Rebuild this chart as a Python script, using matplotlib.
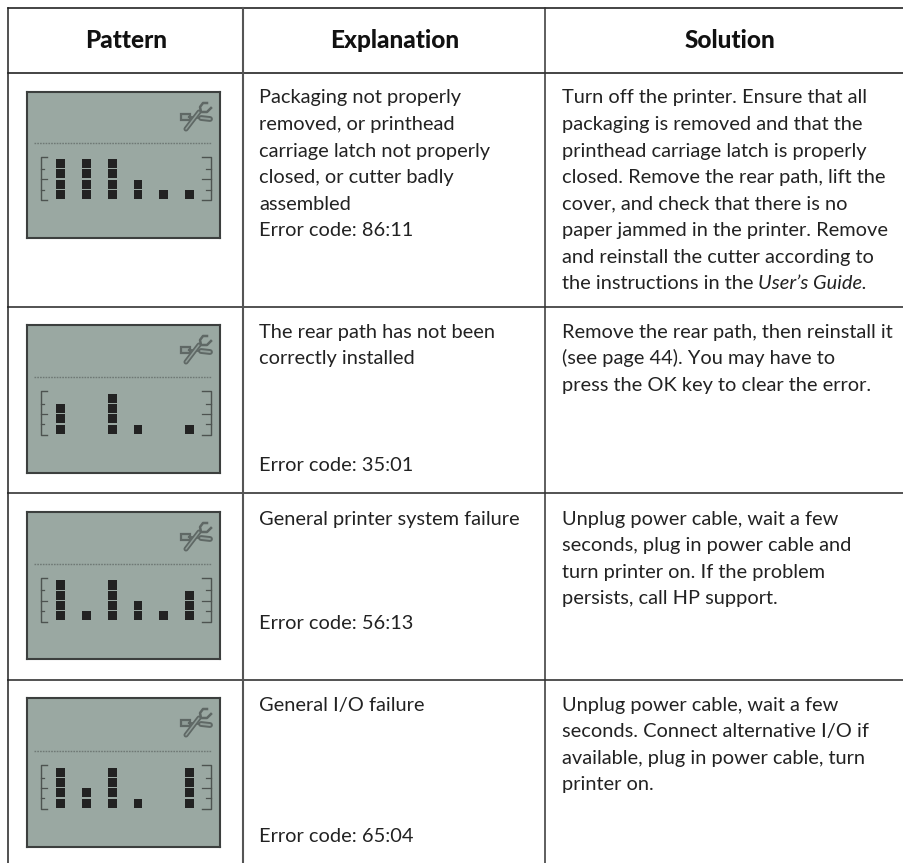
import matplotlib
matplotlib.use('Agg')
import matplotlib.pyplot as plt
from matplotlib.patches import Rectangle

W, H = 904, 863
FONT = 'Lato'

headers = ['Pattern', 'Explanation', 'Solution']
header_x = [126, 394.5, 730]

# number of lit blocks in each of the six columns of the display
levels_1 = [4, 4, 4, 2, 1, 1]
levels_2 = [3, 0, 4, 1, 0, 1]
levels_3 = [4, 1, 4, 2, 1, 3]
levels_4 = [4, 2, 4, 1, 0, 4]
all_levels = [levels_1, levels_2, levels_3, levels_4]

explain_1 = ['Packaging not properly', 'removed, or printhead', 'carriage latch not properly',
             'closed, or cutter badly', 'assembled', 'Error code: 86:11']
explain_2 = ['The rear path has not been', 'correctly installed']
explain_3 = ['General printer system failure']
explain_4 = ['General I/O failure']
all_explain = [explain_1, explain_2, explain_3, explain_4]
error_codes = [None, 'Error code: 35:01', 'Error code: 56:13', 'Error code: 65:04']

solution_1 = ['Turn off the printer. Ensure that all', 'packaging is removed and that the',
              'printhead carriage latch is properly', 'closed. Remove the rear path, lift the',
              'cover, and check that there is no', 'paper jammed in the printer. Remove',
              'and reinstall the cutter according to', 'the instructions in the']
solution_2 = ['Remove the rear path, then reinstall it', '(see page 44). You may have to',
              'press the OK key to clear the error.']
solution_3 = ['Unplug power cable, wait a few', 'seconds, plug in power cable and',
              'turn printer on. If the problem', 'persists, call HP support.']
solution_4 = ['Unplug power cable, wait a few', 'seconds. Connect alternative I/O if',
              'available, plug in power cable, turn', 'printer on.']
all_solution = [solution_1, solution_2, solution_3, solution_4]

# layout in pixels
row_lines = [72.7, 306.7, 493, 680]
first_base = [103.5, 337.5, 524.5, 710.5]
error_base = [236, 470.5, 628.5, 842]
panel_top = [92, 325, 512, 698]
panel_bot = [238, 473, 659, 847]
baseline = [199.3, 434, 620.7, 808]
PANEL_L, PANEL_R = 27, 220
STEP_X, STEP_Y = 25.75, 10.3
LINE_H = 26.5

fig = plt.figure(figsize=(W / 100, H / 100), dpi=100, facecolor='white')
ax = fig.add_axes([0, 0, 1, 1])
ax.set_xlim(0, W)
ax.set_ylim(H, 0)
ax.axis('off')

# table rules
ax.plot([8, W], [8.5, 8.5], color='#111111', lw=1.1)
ax.plot([8, W], [row_lines[0], row_lines[0]], color='#111111', lw=1.1)
for y in row_lines[1:]:
    ax.plot([8, W], [y, y], color='#444444', lw=1.3)
ax.plot([8.5, 8.5], [8, H], color='#222222', lw=1.1)
ax.plot([243, 243], [8, H], color='#555555', lw=1.5)
ax.plot([545, 545], [8, H], color='#333333', lw=1.1)

for x, h in zip(header_x, headers):
    ax.text(x, 48, h, ha='center', va='baseline', family=FONT, weight='black', fontsize=17.6, color='#111111')

TXT = dict(va='baseline', family=FONT, fontsize=14.4, color='#222222')
for i in range(4):
    for j, line in enumerate(all_explain[i]):
        ax.text(259, first_base[i] + j * LINE_H, line, **TXT)
    if error_codes[i]:
        ax.text(259, error_base[i], error_codes[i], **TXT)
    for j, line in enumerate(all_solution[i]):
        last = ax.text(562, first_base[i] + j * LINE_H, line, **TXT)
    if i == 0:
        x1 = last.get_window_extent(fig.canvas.get_renderer()).x1
        ax.text(x1 + 5, first_base[0] + 7 * LINE_H, 'User\u2019s Guide.', style='italic', **TXT)


def draw_lcd(levels, top, bot, base):
    lcd = fig.add_axes([PANEL_L / W, 1 - bot / H, (PANEL_R - PANEL_L) / W, (bot - top) / H])
    x0 = (60.7 - PANEL_L) / STEP_X
    lcd.set_xlim(-x0, (PANEL_R - PANEL_L) / STEP_X - x0)
    lcd.set_ylim((base - bot) / STEP_Y, (base - top) / STEP_Y)
    lcd.set_facecolor('#9aa8a2')
    lcd.set_xticks([])
    lcd.set_yticks([])
    for s in lcd.spines.values():
        s.set_color('#3c3f3e')
        s.set_linewidth(1.5)

    for col, n in enumerate(levels):
        for k in range(n):
            lcd.bar(col, 0.9, width=0.34, bottom=k + 0.02, color='#222222')

    # dotted separator
    lcd.plot([-1.02, 5.85], [5.5, 5.5], color='#6f7975', lw=1.0, ls=(0, (1.2, 0.8)))

    # scale brackets
    for xa, xb in [(-0.78, -0.55), (5.85, 5.5)]:
        lcd.plot([xb, xa, xa, xb], [4.15, 4.15, -0.1, -0.1], color='#4d5350', lw=1.0)
        for y, tick in [(1, 0.6), (2, 1.0), (3, 0.6)]:
            lcd.plot([xa, xa + (xb - xa) * tick], [y - 0.05, y - 0.05], color='#4d5350', lw=0.9)

    # wrench and screwdriver icon, page x and y offset from the panel top, in pixels
    def px(a, b):
        return (a - PANEL_L) / STEP_X - x0, (base - (top + b)) / STEP_Y

    dark, pale = '#5f6865', '#8f9c97'
    lcd.add_patch(Rectangle(px(181, 28), 8.5 / STEP_X, 6 / STEP_Y, fc=pale, ec=dark, lw=1.6))
    xs, ys = zip(px(189, 25), px(201, 26))
    lcd.plot(xs, ys, color=dark, lw=1.6)
    xs, ys = zip(px(201, 26), px(210, 27))
    lcd.plot(xs, ys, color=dark, lw=4.2, solid_capstyle='round')
    lcd.plot(xs, ys, color=pale, lw=1.4, solid_capstyle='round')
    xs, ys = zip(px(186, 37), px(199, 20))
    lcd.plot(xs, ys, color=dark, lw=3.6, solid_capstyle='round')
    lcd.plot(xs, ys, color=pale, lw=1.1, solid_capstyle='round')
    xs, ys = zip(px(207, 11), px(203, 11), px(200, 15), px(201, 20), px(207, 20), px(211, 16))
    lcd.plot(xs, ys, color=dark, lw=1.8)


for i in range(4):
    draw_lcd(all_levels[i], panel_top[i], panel_bot[i], baseline[i])

fig.savefig('out.png', dpi=100)
